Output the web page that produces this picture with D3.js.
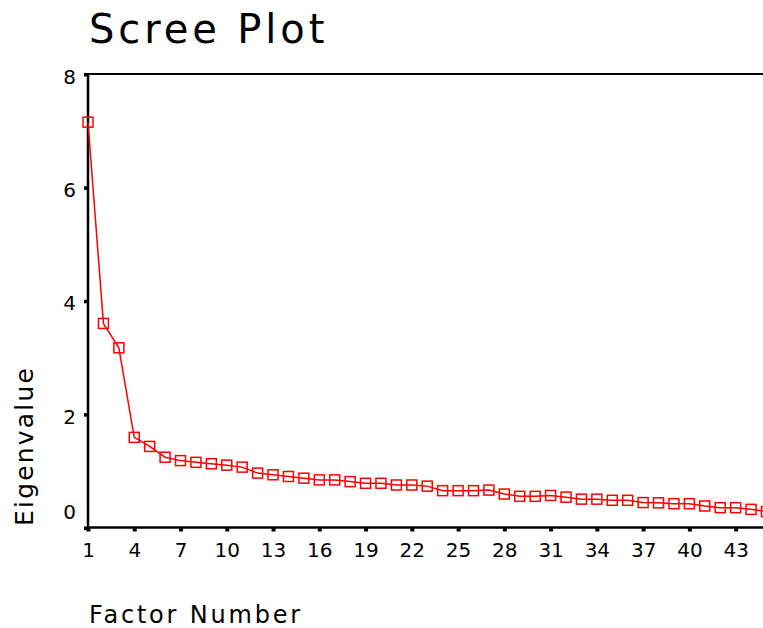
<!DOCTYPE html>
<html>
<head>
<meta charset="utf-8">
<script src="https://cdn.jsdelivr.net/npm/d3@7"></script>
<style>
  html, body { margin: 0; padding: 0; background: #fff; overflow: hidden; }
  svg { display: block; }
</style>
</head>
<body>
<svg id="chart" width="763" height="628"></svg>
<script>
const factors = d3.range(1, 46);
const eigenvalues = [7.15, 3.60, 3.17, 1.59, 1.43, 1.24, 1.18, 1.15, 1.125, 1.10,
  1.065, 0.96, 0.93, 0.90, 0.87, 0.84, 0.84, 0.81, 0.78, 0.78,
  0.75, 0.75, 0.73, 0.65, 0.65, 0.65, 0.66, 0.59, 0.55, 0.55,
  0.565, 0.535, 0.50, 0.50, 0.48, 0.48, 0.44, 0.435, 0.42, 0.42,
  0.38, 0.35, 0.35, 0.32, 0.28];
const xTicks = [1, 4, 7, 10, 13, 16, 19, 22, 25, 28, 31, 34, 37, 40, 43];
const yTicks = [0, 2, 4, 6, 8];

const data = factors.map((f, i) => ({ f, v: eigenvalues[i] }));

const svg = d3.select("#chart");
const x = d3.scaleLinear().domain([1, 46]).range([88, 88 + 45 * 15.42]);
const y = d3.scaleLinear().domain([0, 8]).range([527.5, 74]);

const font = "'DejaVu Sans', sans-serif";

// title
svg.append("text").attr("x", 89).attr("y", 43)
  .attr("font-family", font).attr("font-size", 40).attr("letter-spacing", 3.9)
  .attr("fill", "#000").text("Scree Plot");

// axis lines
const g = svg.append("g");
g.append("line").attr("x1", x(1)).attr("x2", x(46)).attr("y1", y(8)).attr("y2", y(8))
  .attr("stroke", "#000").attr("stroke-width", 2);
g.append("line").attr("x1", x(1)).attr("x2", x(1)).attr("y1", y(8) - 1).attr("y2", y(0) + 1)
  .attr("stroke", "#000").attr("stroke-width", 2.5);
g.append("line").attr("x1", x(1) - 1).attr("x2", x(46)).attr("y1", y(0)).attr("y2", y(0))
  .attr("stroke", "#000").attr("stroke-width", 2.5);

// x ticks
const xAxis = d3.axisBottom(x).tickValues(xTicks).tickSize(0).tickPadding(0).tickFormat(d3.format("d"));
const xg = svg.append("g").attr("transform", `translate(0,${y(0)})`).call(xAxis);
xg.select(".domain").remove();
xg.selectAll(".tick").append("rect").attr("x", -2).attr("y", 0).attr("width", 4).attr("height", 4).attr("fill", "#000");
xg.selectAll(".tick text").attr("y", 29).attr("dy", 0)
  .attr("font-family", font).attr("font-size", 20).attr("fill", "#000");

// y ticks
const yAxis = d3.axisLeft(y).tickValues(yTicks).tickSize(0).tickPadding(0).tickFormat(d3.format("d"));
const yg = svg.append("g").attr("transform", `translate(${x(1)},0)`).call(yAxis);
yg.select(".domain").remove();
yg.selectAll(".tick").append("rect").attr("x", -4).attr("y", -1.5).attr("width", 4).attr("height", 3.5).attr("fill", "#000");
yg.selectAll(".tick text").attr("x", -12).attr("dy", d => d === 0 ? "-0.45em" : "0.45em")
  .attr("font-family", font).attr("font-size", 20).attr("fill", "#000");

// line
svg.append("path").datum(data)
  .attr("d", d3.line().x(d => x(d.f)).y(d => y(d.v)))
  .attr("fill", "none").attr("stroke", "#ff0000").attr("stroke-width", 1.5);

// markers
svg.append("g").selectAll("rect").data(data).join("rect")
  .attr("x", d => x(d.f) - 5).attr("y", d => y(d.v) - 5)
  .attr("width", 10).attr("height", 10)
  .attr("fill", "none").attr("stroke", "#ff0000").attr("stroke-width", 1.5);

// axis titles
svg.append("text").attr("x", 89).attr("y", 623)
  .attr("font-family", font).attr("font-size", 24).attr("letter-spacing", 2.8)
  .attr("fill", "#000").text("Factor Number");

svg.append("text").attr("transform", "translate(33,526) rotate(-90)")
  .attr("font-family", font).attr("font-size", 25).attr("letter-spacing", 2.2)
  .attr("fill", "#000").text("Eigenvalue");
</script>
</body>
</html>
